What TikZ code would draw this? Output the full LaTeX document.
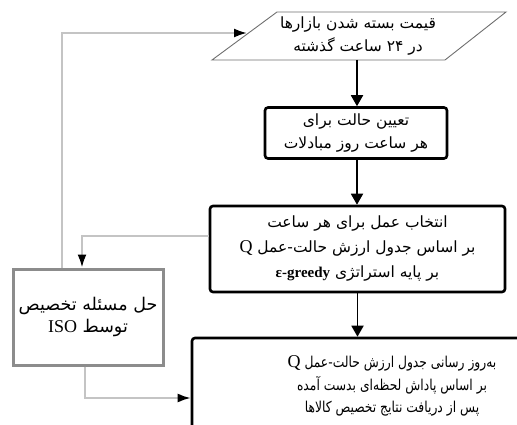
\documentclass[tikz,border=0pt]{standalone}
\usepackage{fontspec}
\setmainfont{Liberation Serif}
\newfontfamily\fa[Script=Arabic]{DejaVu Sans}
\newfontfamily\fan[Script=Arabic,FakeStretch=0.82]{DejaVu Sans}
\TeXXeTstate=1
\usetikzlibrary{arrows.meta}
\newcommand\lat[2][18]{\beginL{\rmfamily\fontsize{#1}{#1}\selectfont #2}\endL}
\definecolor{lgray}{HTML}{C4C4C4}
\definecolor{mgray}{HTML}{8C8C8C}
\definecolor{pgray}{HTML}{6E6E6E}
\begin{document}
\begin{tikzpicture}[x=1pt,y=-1pt,
  txt/.style={align=center, font=\fa\fontsize{15.5}{23}\selectfont, inner sep=0pt},
  blkbox/.style={txt, draw=black, line width=2.6pt, rounded corners=3pt},
  graybox/.style={txt, draw=mgray, line width=3pt},
  blkarrow/.style={draw=black, line width=1.8pt, -{Triangle[length=11pt,width=12pt]}},
  grayarrow/.style={draw=lgray, line width=2pt, -{Latex[length=13pt,width=9pt,black]}}]
\useasboundingbox (0,0) rectangle (517,425);
% parallelogram
\draw[draw=pgray, line width=0.9pt] (277,12) -- (506,12) -- (445,60) -- (212,60) -- cycle;
\coordinate (pb) at (357,60);
\coordinate (pl) at (247,33);
\node[txt] (p) at (358,36) {\beginR قیمت بسته شدن بازارها\endR\\\beginR در ۲۴ ساعت گذشته\endR};
% boxes
\node[blkbox, minimum width=182pt, minimum height=51pt] (b2) at (356,133)
  {\beginR تعیین حالت برای\endR\\\beginR هر ساعت روز مبادلات\endR};
\node[blkbox, minimum width=295pt, minimum height=86pt, font=\fa\fontsize{15.5}{25}\selectfont] (b3) at (357.5,249)
  {\beginR انتخاب عمل برای هر ساعت\endR\\\beginR بر اساس جدول ارزش حالت-عمل \lat{Q}\endR\\\beginR بر پایه استراتژی \lat[15]{\bfseries ε-greedy}\endR};
\node[graybox, minimum width=150pt, minimum height=96pt, font=\fa\fontsize{17.5}{22}\selectfont] (b4) at (88,317)
  {\beginR حل مسئله تخصیص\endR\\\beginR توسط \lat{ISO}\endR};
\node[blkbox, minimum width=368pt, minimum height=132pt] (b5) at (376,404) {};
\node[txt, font=\fan\fontsize{15}{22.5}\selectfont] (t5) at (392,386)
  {\beginR به‌روز رسانی جدول ارزش حالت-عمل \lat{Q}\endR\\\beginR بر اساس پاداش لحظه‌ای بدست آمده\endR\\\beginR پس از دریافت نتایج تخصیص کالاها\endR};
% connectors
\draw[blkarrow] (pb) -- (pb |- b2.north);
\draw[blkarrow] ([xshift=1pt]b2.south) -- ([xshift=1pt]b2.south |- b3.north);
\draw[blkarrow] (b3.south) -- (b3.south |- b5.north);
\draw[grayarrow] ([yshift=13pt]b3.west) -| ([xshift=-6pt]b4.north);
\draw[grayarrow] ([xshift=-26pt]b4.north) |- (pl);
\draw[grayarrow] ([xshift=-3pt]b4.south) |- ([yshift=6pt]b5.west);
\end{tikzpicture}
\end{document}
